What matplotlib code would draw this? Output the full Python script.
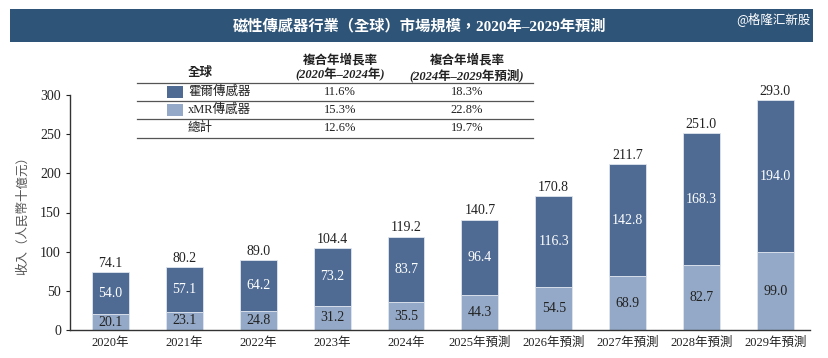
import matplotlib
matplotlib.use("Agg")
import matplotlib.pyplot as plt
from matplotlib.patches import Rectangle
from matplotlib.lines import Line2D

years = ["2020年", "2021年", "2022年", "2023年", "2024年", "2025年預測",
         "2026年預測", "2027年預測", "2028年預測", "2029年預測"]
xmr = [20.1, 23.1, 24.8, 31.2, 35.5, 44.3, 54.5, 68.9, 82.7, 99.0]
hall = [54.0, 57.1, 64.2, 73.2, 83.7, 96.4, 116.3, 142.8, 168.3, 194.0]
total = [74.1, 80.2, 89.0, 104.4, 119.2, 140.7, 170.8, 211.7, 251.0, 293.0]

table_rows = ["霍爾傳感器", "xMR傳感器", "總計"]
cagr_2020_2024 = ["11.6%", "15.3%", "12.6%"]
cagr_2024_2029 = ["18.3%", "22.8%", "19.7%"]

FAM = ["Liberation Serif", "Noto Sans CJK TC"]
plt.rcParams["font.family"] = FAM

DARK = "#4F6B94"
LIGHT = "#93A9C7"
BANNER = "#2E5478"
TXT = "#222222"

fig = plt.figure(figsize=(8.29, 3.58), dpi=100)
W, H = 829, 358

def fx(px):
    return px / W

def fy(py):
    return 1 - py / H

# Banner
fig.patches.append(Rectangle((fx(10), fy(42)), fx(813) - fx(10), fy(9) - fy(42),
                             transform=fig.transFigure, facecolor=BANNER,
                             edgecolor="none", zorder=0))
fig.text(fx(420), fy(26), "磁性傳感器行業（全球）市場規模，2020年–2029年預測",
         color="white", fontsize=11, fontweight="bold", ha="center", va="center")
fig.text(fx(811), fy(19), "@格隆汇新股", color="white", fontsize=9,
         ha="right", va="center", family=["Noto Sans CJK SC", "DejaVu Sans"])

ax = fig.add_axes([fx(70), fy(330), fx(810) - fx(70), fy(95) - fy(330)])
x = list(range(len(years)))
w = 0.5
ax.bar(x, xmr, width=w, color=LIGHT, edgecolor="#dfe6ef", linewidth=0.6, zorder=2)
ax.bar(x, hall, width=w, bottom=xmr, color=DARK, edgecolor="#dfe6ef", linewidth=0.6, zorder=2)

for i in x:
    ax.text(i, xmr[i] / 2, f"{xmr[i]:.1f}", ha="center", va="center",
            fontsize=10, color=TXT)
    ax.text(i, xmr[i] + hall[i] / 2, f"{hall[i]:.1f}", ha="center", va="center",
            fontsize=10, color="white")
    ax.text(i, total[i] + 3, f"{total[i]:.1f}", ha="center", va="bottom",
            fontsize=10, color=TXT)

ax.set_xlim(-0.55, 9.47)
ax.set_ylim(0, 300)
ax.set_yticks([0, 50, 100, 150, 200, 250, 300])
ax.set_xticks(x)
ax.set_xticklabels(years)
ax.tick_params(axis="y", labelsize=10, colors=TXT, length=3, width=0.8)
ax.tick_params(axis="x", labelsize=9, colors=TXT, length=0, pad=5)
for s in ["top", "right"]:
    ax.spines[s].set_visible(False)
for s in ["left", "bottom"]:
    ax.spines[s].set_color("#333333")
    ax.spines[s].set_linewidth(1.0)
ax.set_ylabel("收入（人民幣十億元）", fontsize=9, color="#555555", labelpad=8)

# Table
for py in [83, 101, 119, 138]:
    fig.add_artist(Line2D([fx(137), fx(533)], [fy(py), fy(py)], color="#555555",
                          linewidth=0.9, transform=fig.transFigure))
fig.text(fx(200), fy(73), "全球", fontsize=9, fontweight="bold", style="italic",
         ha="center", va="center", color=TXT)
for cx, rng in [(340, "(2020年–2024年)"), (467, "(2024年–2029年預測)")]:
    fig.text(fx(cx), fy(60), "複合年增長率", fontsize=9, fontweight="bold",
             style="italic", ha="center", va="center", color=TXT)
    fig.text(fx(cx), fy(75), rng, fontsize=9, fontweight="bold",
             style="italic", ha="center", va="center", color=TXT)
row_y = [92, 110, 128]
sw_colors = [DARK, LIGHT, None]
for r, label in enumerate(table_rows):
    py = row_y[r]
    if sw_colors[r]:
        fig.patches.append(Rectangle((fx(167), fy(py + 6)), fx(183) - fx(167), fy(py - 6) - fy(py + 6),
                                     transform=fig.transFigure, facecolor=sw_colors[r],
                                     edgecolor="none"))
    fig.text(fx(188), fy(py), label, fontsize=9, ha="left", va="center", color=TXT,
             style="italic" if r == 2 else "normal")
    fig.text(fx(340), fy(py), cagr_2020_2024[r], fontsize=9, ha="center", va="center", color=TXT)
    fig.text(fx(467), fy(py), cagr_2024_2029[r], fontsize=9, ha="center", va="center", color=TXT)

fig.savefig("out.png", dpi=100)
